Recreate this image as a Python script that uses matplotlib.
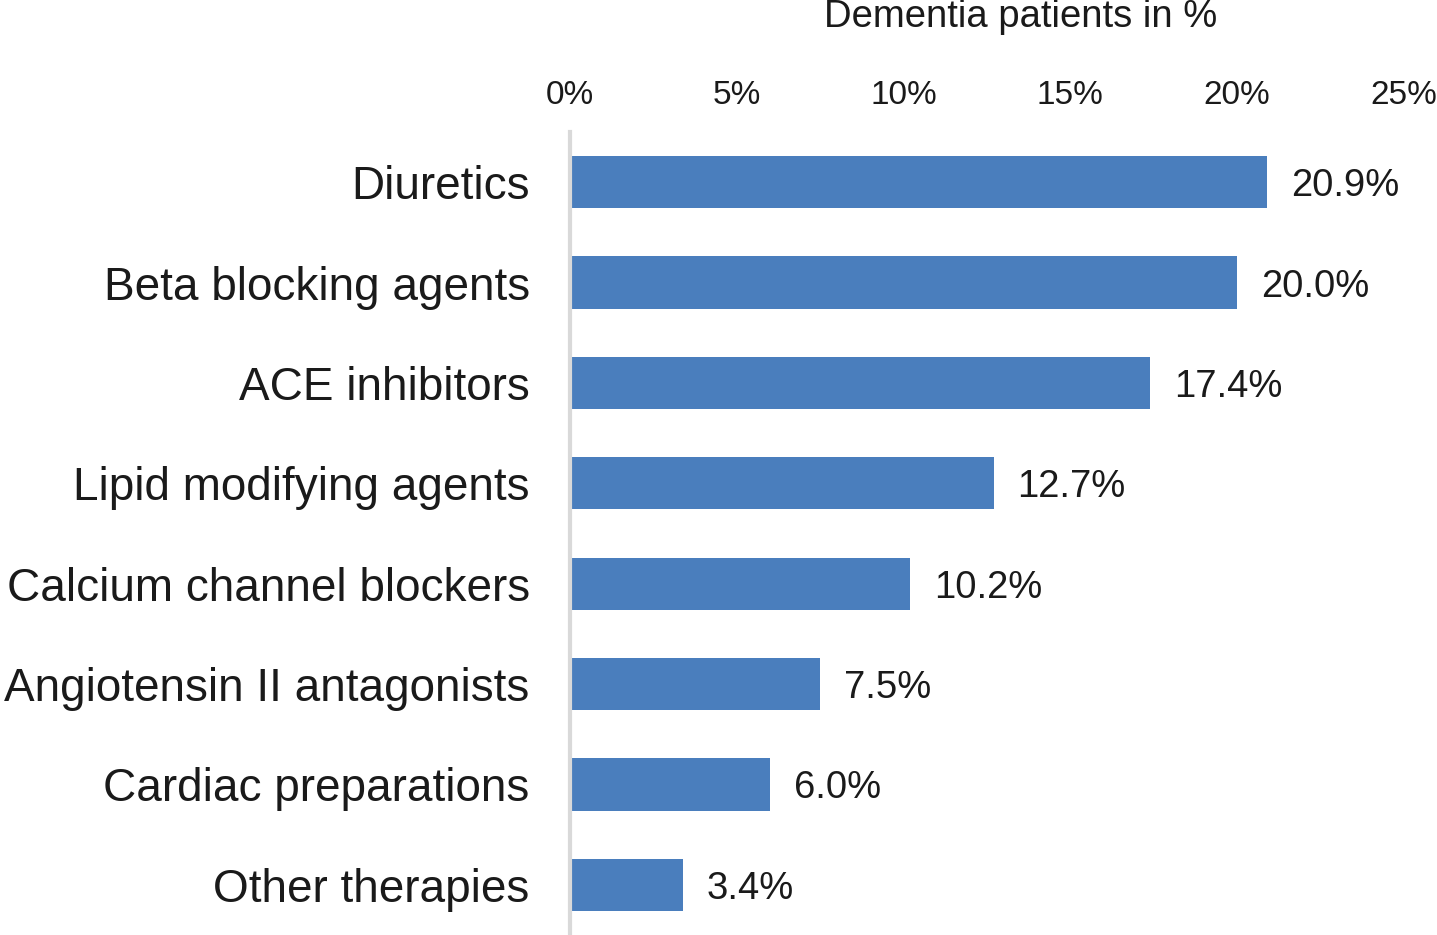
import matplotlib.pyplot as plt
from matplotlib.ticker import FuncFormatter

plt.rcParams['font.family'] = ['Liberation Sans', 'DejaVu Sans']

categories = ['Diuretics', 'Beta blocking agents', 'ACE inhibitors',
              'Lipid modifying agents', 'Calcium channel blockers',
              'Angiotensin II antagonists', 'Cardiac preparations',
              'Other therapies']
values = [20.9, 20.0, 17.4, 12.7, 10.2, 7.5, 6.0, 3.4]
ticks = [0, 5, 10, 15, 20, 25]

fig = plt.figure(figsize=(14.37, 9.35), dpi=100)
ax = fig.add_axes([570 / 1437, 0, (1404 - 570) / 1437, 1 - 132 / 935])

pos = list(range(len(categories)))
ax.barh(pos, values, height=0.52, color='#4a7ebd', zorder=2)
for p, v in zip(pos, values):
    ax.annotate(f'{v:.1f}%', (v, p), xytext=(17, 0), textcoords='offset points',
                va='center_baseline', ha='left', fontsize=27.5, color='#1a1a1a')

ax.set_ylim(len(categories) - 0.5, -0.5)
ax.set_xlim(0, 25)
ax.set_xticks(ticks)
ax.xaxis.set_major_formatter(FuncFormatter(lambda x, _: f'{x:.0f}%'))
ax.xaxis.tick_top()
ax.tick_params(axis='x', length=0, pad=15, labelsize=24, labelcolor='#1a1a1a')
ax.set_yticks(pos)
ax.set_yticklabels(categories, va='center_baseline')
ax.tick_params(axis='y', length=0, pad=29, labelsize=33, labelcolor='#1a1a1a')

for s in ['top', 'right', 'bottom']:
    ax.spines[s].set_visible(False)
ax.spines['left'].set_color('#d9d9d9')
ax.spines['left'].set_linewidth(3)

fig.text(1021 / 1437, 1 - 17 / 935, 'Dementia patients in %', ha='center',
         va='center', fontsize=27.5, color='#1a1a1a')

fig.savefig('out.png', dpi=100)
